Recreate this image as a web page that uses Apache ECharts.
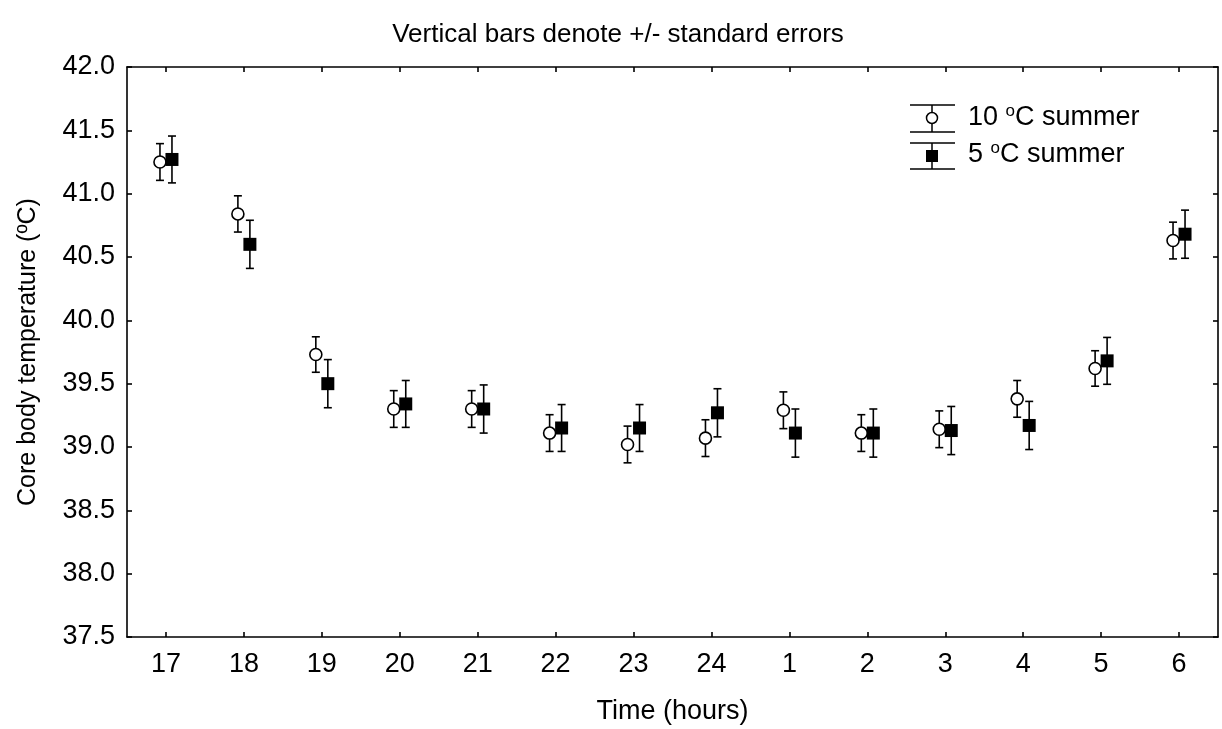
<!DOCTYPE html>
<html><head><meta charset="utf-8">
<script src="https://cdn.jsdelivr.net/npm/echarts@6/dist/echarts.min.js"></script>
<style>html,body{margin:0;padding:0;background:#fff}#c{width:1222px;height:729px}</style>
</head><body><div id="c"></div>
<script>
var hours = ['17','18','19','20','21','22','23','24','1','2','3','4','5','6'];
var yTicks = [37.5, 38.0, 38.5, 39.0, 39.5, 40.0, 40.5, 41.0, 41.5, 42.0];
var mean10 = [41.25, 40.84, 39.73, 39.30, 39.30, 39.11, 39.02, 39.07, 39.29, 39.11, 39.14, 39.38, 39.62, 40.63];
var se10   = [0.145, 0.143, 0.14, 0.145, 0.145, 0.145, 0.145, 0.145, 0.145, 0.145, 0.145, 0.145, 0.14, 0.145];
var mean5  = [41.27, 40.60, 39.50, 39.34, 39.30, 39.15, 39.15, 39.27, 39.11, 39.11, 39.13, 39.17, 39.68, 40.68];
var se5    = [0.185, 0.19, 0.19, 0.185, 0.19, 0.185, 0.185, 0.19, 0.19, 0.19, 0.19, 0.19, 0.185, 0.19];
var name10 = '10 \u00baC summer', name5 = '5 \u00baC summer';

function errData(mean, se){ return mean.map(function(m,i){ return [i, m - se[i], m + se[i]]; }); }
function errRender(offset){
  return function(params, api){
    var i = api.value(0);
    var lo = api.coord([i, api.value(1)]);
    var hi = api.coord([i, api.value(2)]);
    var x = lo[0] + offset, cw = 4;
    var st = {stroke:'#000', lineWidth:1.6};
    return {type:'group', children:[
      {type:'line', shape:{x1:x,y1:lo[1],x2:x,y2:hi[1]}, style:st},
      {type:'line', shape:{x1:x-cw,y1:lo[1],x2:x+cw,y2:lo[1]}, style:st},
      {type:'line', shape:{x1:x-cw,y1:hi[1],x2:x+cw,y2:hi[1]}, style:st}
    ]};
  };
}
var font = 'Liberation Sans, Arial, sans-serif';
var chart = echarts.init(document.getElementById('c'), null, {renderer:'canvas'});
var axisLine = {show:true, lineStyle:{color:'#000', width:1.6}};
var tick = {show:true, inside:true, length:5, lineStyle:{color:'#000', width:1.6}};
chart.setOption({
  animation:false,
  backgroundColor:'#fff',
  title:{text:'Vertical bars denote +/- standard errors', left:613, textAlign:'center', top:17,
    textStyle:{fontFamily:font, fontSize:26, fontWeight:'normal', color:'#000'}},
  grid:{left:127, right:4, top:67, bottom:92, containLabel:false, outerBoundsMode:'none'},
  xAxis:[
    {type:'category', data:hours, boundaryGap:true, position:'bottom',
     axisLine:axisLine, axisTick:Object.assign({alignWithLabel:true}, tick),
     axisLabel:{fontFamily:font, fontSize:27, color:'#000', margin:14},
     name:'Time (hours)', nameLocation:'middle', nameGap:61,
     nameTextStyle:{fontFamily:font, fontSize:27, color:'#000'}, splitLine:{show:false}},
    {type:'category', data:hours, boundaryGap:true, position:'top',
     axisLine:axisLine, axisTick:Object.assign({alignWithLabel:true}, tick),
     axisLabel:{show:false}, splitLine:{show:false}}
  ],
  yAxis:[
    {type:'value', min:yTicks[0], max:yTicks[yTicks.length-1], interval:0.5, position:'left',
     axisLine:axisLine, axisTick:tick, splitLine:{show:false},
     axisLabel:{fontFamily:font, fontSize:27, color:'#000', margin:12,
       formatter:function(v){return v.toFixed(1);}},
     name:'Core body temperature (\u00baC)', nameLocation:'middle', nameGap:86,
     nameTextStyle:{fontFamily:font, fontSize:25, color:'#000'}},
    {type:'value', min:yTicks[0], max:yTicks[yTicks.length-1], interval:0.5, position:'right',
     axisLine:axisLine, axisTick:tick, splitLine:{show:false}, axisLabel:{show:false}}
  ],
  legend:{show:false},
  series:[
    {type:'custom', name:name10+' err', renderItem:errRender(-6), data:errData(mean10, se10), z:2, silent:true},
    {type:'custom', name:name5+' err', renderItem:errRender(6), data:errData(mean5, se5), z:2, silent:true},
    {type:'scatter', name:name10, data:mean10, symbol:'circle', symbolSize:12, symbolOffset:[-6,0],
     itemStyle:{color:'#fff', borderColor:'#000', borderWidth:1.6, opacity:1}, z:3},
    {type:'scatter', name:name5, data:mean5, symbol:'rect', symbolSize:13, symbolOffset:[6,0],
     itemStyle:{color:'#000', opacity:1}, z:4}
  ],
  graphic:[
    {type:'line', shape:{x1:910,y1:105,x2:955,y2:105}, style:{stroke:'#000',lineWidth:1.5}},
    {type:'line', shape:{x1:910,y1:132,x2:955,y2:132}, style:{stroke:'#000',lineWidth:1.5}},
    {type:'line', shape:{x1:932,y1:105,x2:932,y2:132}, style:{stroke:'#000',lineWidth:1.5}},
    {type:'circle', shape:{cx:932,cy:118,r:5.5}, style:{fill:'#fff',stroke:'#000',lineWidth:1.5}},
    {type:'line', shape:{x1:910,y1:143,x2:955,y2:143}, style:{stroke:'#000',lineWidth:1.5}},
    {type:'line', shape:{x1:910,y1:169,x2:955,y2:169}, style:{stroke:'#000',lineWidth:1.5}},
    {type:'line', shape:{x1:932,y1:143,x2:932,y2:169}, style:{stroke:'#000',lineWidth:1.5}},
    {type:'rect', shape:{x:926,y:150,width:12,height:12}, style:{fill:'#000'}},
    {type:'text', left:968, top:103, style:{text:'10 {s|o}C summer', font:'27px '+font, fill:'#000',
      rich:{s:{fontSize:17, verticalAlign:'top', padding:[0,0,12,0], fontFamily:font}}}},
    {type:'text', left:968, top:140, style:{text:'5 {s|o}C summer', font:'27px '+font, fill:'#000',
      rich:{s:{fontSize:17, verticalAlign:'top', padding:[0,0,12,0], fontFamily:font}}}}
  ]
});
</script></body></html>
